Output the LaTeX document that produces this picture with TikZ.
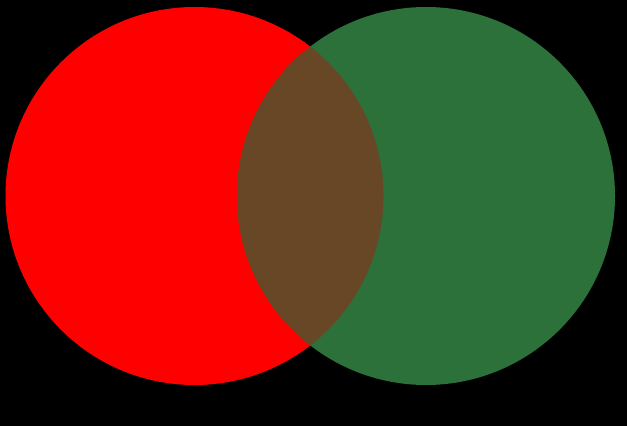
\documentclass[tikz,border=0pt]{standalone}
\usepackage{tikz}
\definecolor{vennred}{RGB}{255,0,0}
\definecolor{venngreen}{RGB}{44,112,58}
\definecolor{vennbrown}{RGB}{104,71,38}
\tikzset{
    disc_red/.style={fill=vennred},
    disc_green/.style={fill=venngreen},
    disc_both/.style={fill=vennbrown}
}
\begin{document}
\begin{tikzpicture}[x=0.03cm,y=-0.03cm]

% background
\fill[black] (0,0) rectangle (627,426);
\useasboundingbox (0,0) rectangle (627,426);

% the two sets
\fill[disc_red] (194.5,196) circle[radius=189];
\fill[disc_green] (426,196) circle[radius=189];

% overlap
\begin{scope}
    \clip (194.5,196) circle[radius=189];
    \fill[disc_both] (426,196) circle[radius=189];
\end{scope}

\end{tikzpicture}
\end{document}
